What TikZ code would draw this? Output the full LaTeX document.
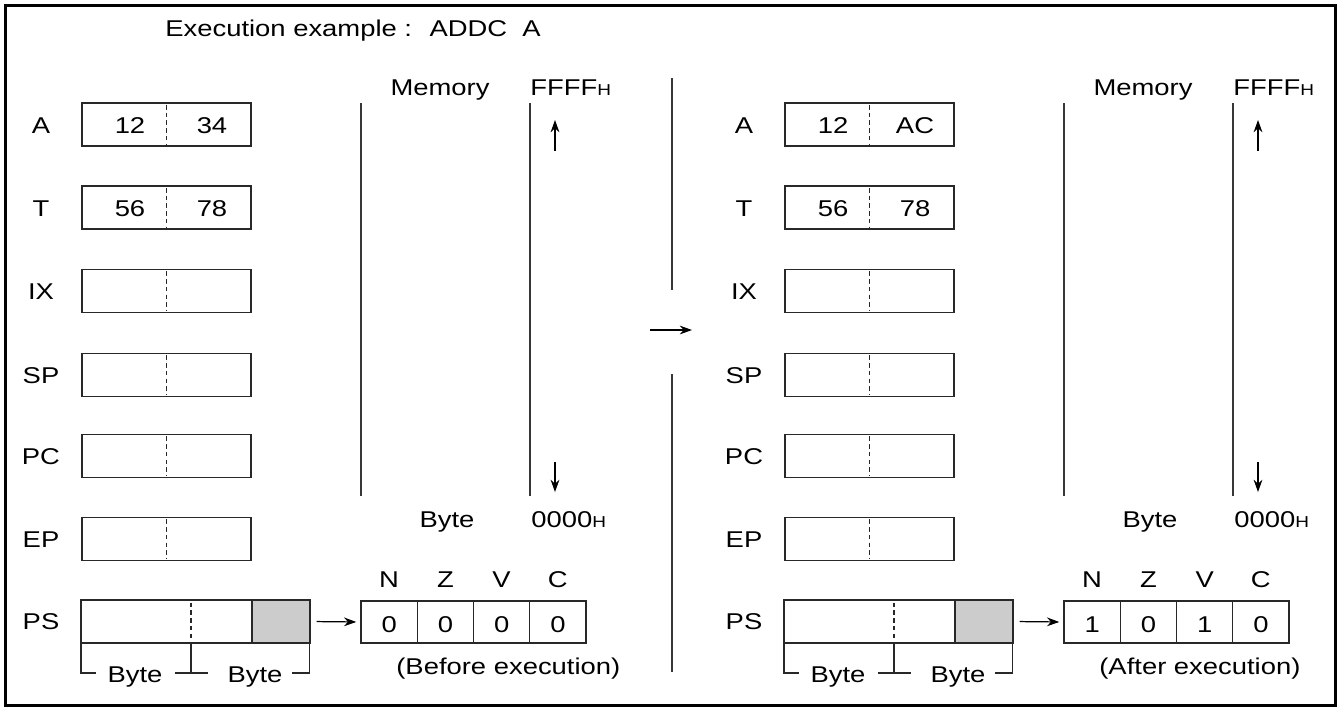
\documentclass[tikz,border=0pt]{standalone}
\usepackage{fontspec}
\setmainfont{Liberation Sans}[FakeStretch=1.2]
\usepackage{tikz}
\usetikzlibrary{arrows.meta,positioning}
\definecolor{regink}{RGB}{40,40,40}
\definecolor{memink}{RGB}{55,55,55}
\definecolor{flaggray}{RGB}{204,204,204}

\begin{document}
\begin{tikzpicture}[x=0.02cm, y=-0.02cm,
    every node/.style={font=\fontsize{13}{15}\selectfont, inner sep=0pt},
    txt/.style={anchor=base},
    regbox/.style={draw=regink, line width=0.8pt, minimum width=3.38cm, minimum height=0.86cm},
    flagcell/.style={draw=regink, line width=0.8pt, minimum width=1.125cm, minimum height=0.84cm},
    halfmark/.style={regink, line width=0.7pt, dash pattern=on 2.6pt off 1.8pt, shorten <=1.5pt, shorten >=1.5pt},
    bracket/.style={regink, line width=0.8pt},
    memline/.style={memink, line width=1.1pt},
    ptr/.style={-{Stealth[length=7pt, width=5pt]}, line width=0.7pt}]
  \useasboundingbox (0,0) rectangle (1341,708);
  \draw[line width=1.7pt] (5.5,5.5) rectangle (1335,705);

  \node[anchor=base west] (title) at (165,36) {Execution example :\hspace{0.35cm}ADDC\hspace{0.3cm}A};

  % before (b) and after (a) panels
  \foreach \dx/\p/\lowA/\fn/\fz/\fv/\fc/\when in {0/b/34/0/0/0/0/Before, 703/a/AC/1/0/1/0/After}{
    \begin{scope}[shift={(\dx,0)}]
      \foreach \reg/\yy/\hi/\lo in {A/124.5/12/\lowA, T/207.5/56/78, IX/291//, SP/375//, PC/456//, EP/539//}{
        \node[txt] (lab\reg\p) at (41,\yy+8.5) {\reg};
        \node[regbox] (reg\reg\p) at (166.5,\yy) {};
        \draw[halfmark] (reg\reg\p.north) -- (reg\reg\p.south);
        \node[txt] (hi\reg\p) at (130,\yy+8.5) {\hi};
        \node[txt] (lo\reg\p) at (212,\yy+8.5) {\lo};
      }
      % PS with byte brackets
      \node[txt] (labPS\p) at (41,629.5) {PS};
      \node[regbox, minimum width=4.58cm] (regPS\p) at (195.5,621.5) {};
      \node[draw=regink, line width=0.8pt, fill=flaggray, minimum width=1.16cm, minimum height=0.86cm, anchor=east] (psLow\p) at (regPS\p.east) {};
      \draw[halfmark] (191,600) -- (191,643);
      \draw[bracket] (81,643) |- (96,673);
      \draw[bracket] (191,643) -- (191,673) (175,673) -- (208,673);
      \draw[bracket] (309.5,643) |- (292,673);
      \node[txt] (byteHi\p) at (135,682) {Byte};
      \node[txt] (byteLo\p) at (255,682) {Byte};
      % flags
      \foreach \flag/\bit [count=\i] in {N/\fn, Z/\fz, V/\fv, C/\fc}{
        \node[flagcell] (cell\flag\p) at (361+56.25*\i-28.125,622) {};
        \node[txt] (bit\flag\p) at (361+56.25*\i-28.125,632) {\bit};
        \node[txt] (name\flag\p) at (361+56.25*\i-28.125,587) {\flag};
      }
      \draw[ptr, shorten <=3.4pt, shorten >=2.3pt] (psLow\p.east) -- (cellN\p.west);
      \node[anchor=base west] (when\p) at (396,674) {(\when\ execution)};
      % memory
      \node[txt] (mem\p) at (440,95) {Memory};
      \node[anchor=base west] (top\p) at (530,95) {FFFF{\fontsize{9}{10}\selectfont H}};
      \node[txt] (byte\p) at (447,527) {Byte};
      \node[anchor=base west] (bot\p) at (531,527) {0000{\fontsize{9}{10}\selectfont H}};
      \draw[memline] (361,103) -- (361,496);
      \draw[memline] (530,103) -- (530,496);
      \coordinate (upTail\p) at (555,151);
      \coordinate (upTip\p) at (555,120);
      \coordinate (downTail\p) at (555,462);
      \coordinate (downTip\p) at (555,492);
      \draw[ptr] (upTail\p) -- (upTip\p);
      \draw[ptr] (downTail\p) -- (downTip\p);
    \end{scope}
  }

  % between the panels
  \draw[memline] (672,78) -- (672,290);
  \draw[memline] (672,374) -- (672,672);
  \coordinate (goFrom) at (650,330);
  \coordinate (goTo) at (692,330);
  \draw[ptr] (goFrom) -- (goTo);
\end{tikzpicture}
\end{document}
